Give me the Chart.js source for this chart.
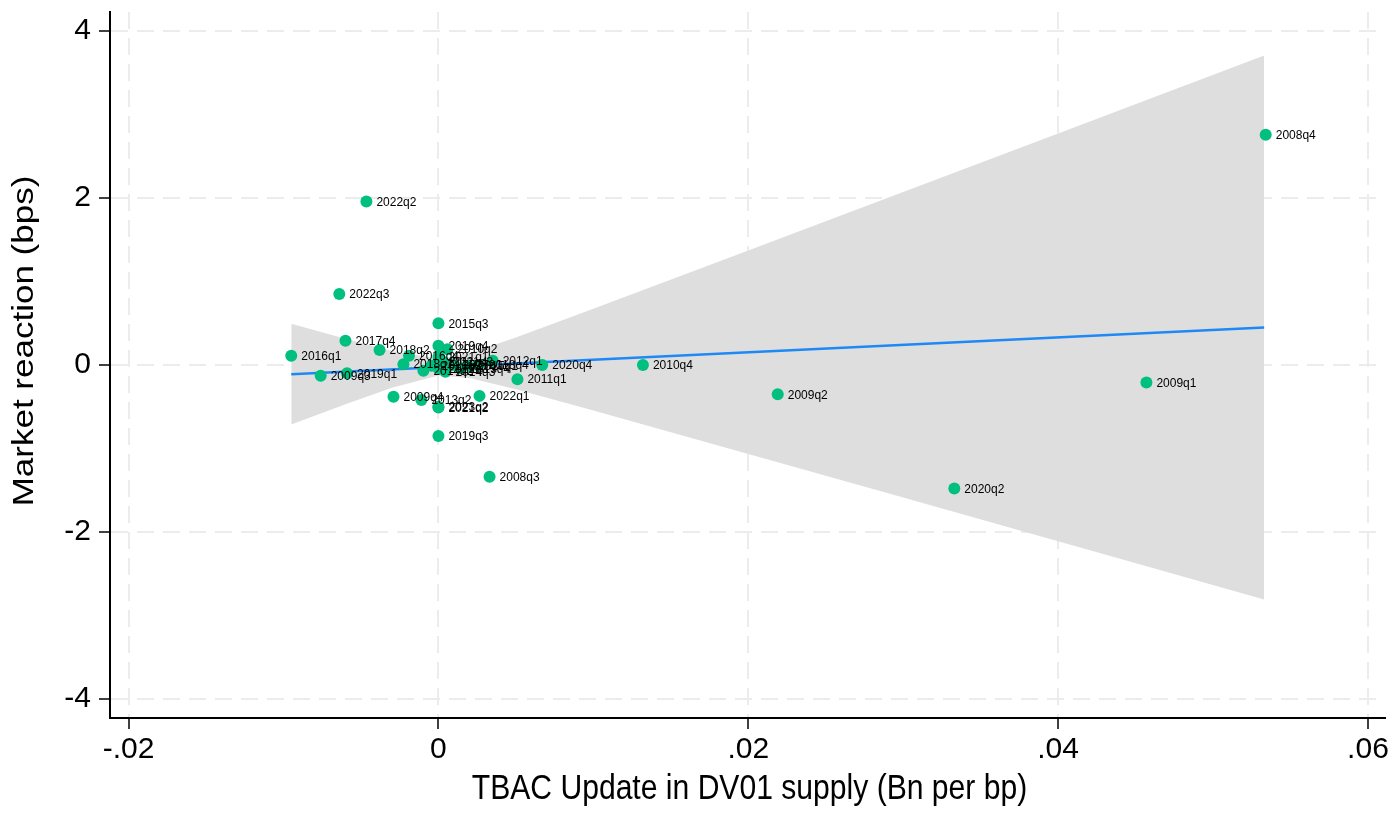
<!DOCTYPE html>
<html>
<head>
<meta charset="utf-8">
<script src="https://cdn.jsdelivr.net/npm/chart.js@4/dist/chart.umd.min.js"></script>
<style>
html,body{margin:0;padding:0;background:#fff;}
#wrap{width:1398px;height:813px;}
</style>
</head>
<body>
<div id="wrap"><canvas id="c" width="1398" height="813"></canvas></div>
<script>
// ---- data ----
const pointLabels = ['2008q4','2022q2','2022q3','2015q3','2017q4','2018q2','2016q1','2019q4','2010q2',
  '2009q3','2019q1','2009q4','2013q2','2023q2','2021q2','2019q3','2022q1','2011q1','2020q4','2010q4',
  '2009q2','2009q1','2020q2','2008q3',
  '2018q1','2016q4','2014q2','2021q1','2021q3','2012q3','2014q3','2017q1','2013q4','2015q1','2018q4',
  '2012q1','2016q2','2011q4'];
const pointX = [0.0534,-0.00465,-0.0064,0.0,-0.0060,-0.0038,-0.0095,0.0,0.00058,
  -0.0076,-0.0059,-0.0029,-0.0011,0.0,0.0,0.0,0.00265,0.0051,0.0067,0.0132,
  0.0219,0.0457,0.0333,0.0033,
  -0.00226,-0.0019,-0.00097,0.0,0.0003,0.0,0.00045,0.0009,0.0014,0.0019,0.0026,
  0.0035,-0.00045,0.0];
const pointY = [2.76,1.96,0.85,0.50,0.29,0.18,0.11,0.23,0.19,
  -0.13,-0.10,-0.38,-0.42,-0.50,-0.51,-0.85,-0.37,-0.17,0.0,0.0,
  -0.35,-0.21,-1.48,-1.34,
  0.01,0.11,-0.07,0.10,0.04,-0.04,-0.08,0.0,-0.04,-0.01,0.0,
  0.05,-0.01,0.04];
// fitted line endpoints
const fitX = [-0.0095, 0.0533];
const fitY = [-0.110, 0.449];
// confidence band
const bandX     = [-0.0095,-0.006,-0.003,0.0,0.002,0.005,0.01,0.02,0.03,0.04,0.0533];
const bandUpper = [0.494,0.315,0.168,0.075,0.142,0.331,0.674,1.372,2.073,2.775,3.709];
const bandLower = [-0.714,-0.471,-0.272,-0.125,-0.156,-0.292,-0.546,-1.066,-1.589,-2.113,-2.811];
// axes
const xTickValues = [-0.02,0,0.02,0.04,0.06];
const xTickLabels = ['-.02','0','.02','.04','.06'];
const yTickValues = [-4,-2,0,2,4];
const yTickLabels = ['-4','-2','0','2','4'];
const xTitle = 'TBAC Update in DV01 supply (Bn per bp)';
const yTitle = 'Market reaction (bps)';

const FONT = "'Liberation Sans', Arial, Helvetica, sans-serif";
const SQUEEZE = 0.86; // horizontal squeeze of the reference's lettering

const labelPlugin = {
  id: 'pointLabels',
  afterDatasetsDraw(chart) {
    const ctx = chart.ctx;
    const meta = chart.getDatasetMeta(3);
    ctx.save();
    ctx.font = '12px ' + FONT;
    ctx.fillStyle = '#000';
    ctx.textBaseline = 'middle';
    ctx.textAlign = 'left';
    meta.data.forEach((el, i) => {
      ctx.fillText(pointLabels[i], el.x + 10, el.y + 1);
    });
    ctx.restore();
  }
};

const titlePlugin = {
  id: 'axisTitles',
  afterDraw(chart) {
    const ctx = chart.ctx;
    const a = chart.chartArea;
    ctx.save();
    ctx.fillStyle = '#000';
    ctx.font = '35px ' + FONT;
    ctx.textAlign = 'center';
    ctx.textBaseline = 'middle';
    ctx.save();
    ctx.translate((a.left + a.right) / 2 + 2, 789);
    ctx.scale(SQUEEZE, 1);
    ctx.fillText(xTitle, 0, 0);
    ctx.restore();
    ctx.save();
    ctx.translate(25, 341);
    ctx.scale(SQUEEZE, 1);
    ctx.rotate(-Math.PI / 2);
    ctx.fillText(yTitle, 0, 0);
    ctx.restore();
    ctx.restore();
  }
};

const gridCommon = {
  color: '#ececec',
  lineWidth: 2,
  drawTicks: true,
  tickColor: '#000',
  tickLength: 11,
  tickWidth: 1.5,
  tickBorderDash: []
};

new Chart(document.getElementById('c'), {
  type: 'scatter',
  data: {
    datasets: [
      {
        type: 'line',
        data: bandX.map((x, i) => ({x: x, y: bandUpper[i]})),
        borderWidth: 0, pointRadius: 0, tension: 0,
        backgroundColor: '#dedede',
        fill: '+1',
        order: 4
      },
      {
        type: 'line',
        data: bandX.map((x, i) => ({x: x, y: bandLower[i]})),
        borderWidth: 0, pointRadius: 0, tension: 0,
        fill: false,
        order: 3
      },
      {
        type: 'line',
        data: fitX.map((x, i) => ({x: x, y: fitY[i]})),
        borderColor: '#1e88f5', borderWidth: 2.5, pointRadius: 0, tension: 0,
        fill: false,
        order: 2
      },
      {
        type: 'scatter',
        data: pointX.map((x, i) => ({x: x, y: pointY[i]})),
        backgroundColor: '#00bf7f', borderWidth: 0, pointRadius: 6, pointHoverRadius: 6,
        order: 1
      }
    ]
  },
  options: {
    responsive: false,
    animation: false,
    events: [],
    layout: {padding: {top: 12, right: 13, left: 0, bottom: 0}},
    plugins: {legend: {display: false}, tooltip: {enabled: false}},
    scales: {
      x: {
        type: 'linear', min: -0.0212, max: 0.0611,
        afterBuildTicks(s) { s.ticks = xTickValues.map(v => ({value: v})); },
        afterFit(s) { s.height = 95; s.paddingLeft = 0; s.paddingRight = 0; },
        ticks: {
          callback(v) { const i = xTickValues.findIndex(t => Math.abs(t - v) < 1e-9); return i >= 0 ? xTickLabels[i] : ''; },
          font: {family: FONT, size: 30}, color: '#000', padding: 3, maxRotation: 0, autoSkip: false
        },
        grid: Object.assign({}, gridCommon),
        border: {display: true, color: '#000', width: 2, dash: [17, 9]},
        title: {display: false}
      },
      y: {
        type: 'linear', min: -4.23, max: 4.23,
        afterBuildTicks(s) { s.ticks = yTickValues.map(v => ({value: v})); },
        afterFit(s) { s.width = 110; s.paddingTop = 0; s.paddingBottom = 0; },
        ticks: {
          callback(v) { const i = yTickValues.findIndex(t => Math.abs(t - v) < 1e-9); return i >= 0 ? yTickLabels[i] : ''; },
          font: {family: FONT, size: 30}, color: '#000', padding: 8, autoSkip: false
        },
        grid: Object.assign({}, gridCommon),
        border: {display: true, color: '#000', width: 2, dash: [17, 9]},
        title: {display: false}
      }
    }
  },
  plugins: [labelPlugin, titlePlugin]
});
</script>
</body>
</html>
